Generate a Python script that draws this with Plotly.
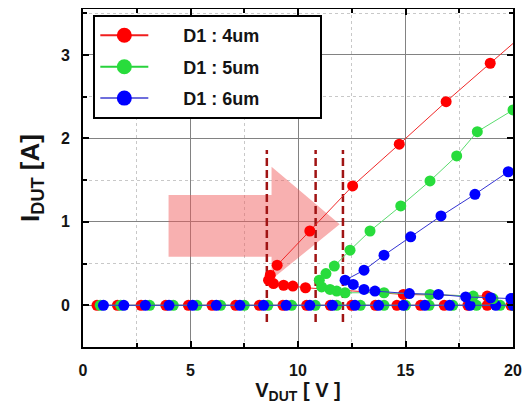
import plotly.graph_objects as go

# ---------------- data ----------------
series_names = ["D1 : 4um", "D1 : 5um", "D1 : 6um"]

# TLP I-V curves (ordered by pulse current)
red_v = [18.8, 14.9, 10.35, 9.76, 9.33, 8.86, 8.63, 8.71, 9.03, 10.55, 12.54, 14.71, 16.89, 18.94, 21.0]
red_i = [0.11, 0.13, 0.21, 0.23, 0.24, 0.26, 0.30, 0.36, 0.48, 0.89, 1.43, 1.93, 2.44, 2.90, 3.36]

green_v = [19.07, 18.15, 16.14, 14.0, 12.19, 11.8, 11.49, 11.1, 10.99, 11.30, 11.69, 12.42, 13.35, 14.78, 16.14, 17.38, 18.34, 20.0]
green_i = [0.08, 0.11, 0.13, 0.15, 0.15, 0.17, 0.19, 0.22, 0.30, 0.38, 0.47, 0.66, 0.89, 1.19, 1.49, 1.79, 2.08, 2.34]

blue_v = [20.0, 19.9, 18.96, 17.8, 16.53, 15.18, 13.58, 13.07, 12.57, 12.19, 13.07, 14.0, 15.24, 16.65, 18.23, 19.78, 21.3]
blue_i = [0.08, 0.08, 0.09, 0.10, 0.13, 0.14, 0.17, 0.19, 0.25, 0.30, 0.42, 0.60, 0.82, 1.07, 1.33, 1.60, 1.82]

# leakage / zero-current row
red_zero_v = [0.65, 1.6, 2.7, 3.85, 4.9, 6.0, 7.1, 8.2, 9.3, 10.4, 11.5, 12.5, 13.6, 14.6, 15.7, 16.8, 17.9, 18.8, 19.9]
green_zero_v = [0.8, 1.75, 3.1, 4.2, 5.3, 6.4, 7.5, 8.6, 9.7, 10.8, 11.8, 12.9, 14.0, 15.0, 16.1, 17.2, 18.3, 19.4, 20.0]
blue_zero_v = [0.95, 1.9, 2.9, 4.0, 5.1, 6.2, 7.3, 8.4, 9.45, 10.55, 11.6, 12.65, 13.75, 14.9, 15.9, 17.05, 18.0, 19.2, 20.0]

# trigger voltage markers (dashed lines)
trigger_v = [8.55, 10.82, 12.09]
trigger_i_range = [-0.2, 1.86]

# big arrow outline (V, I)
arrow_v = [3.98, 8.77, 8.77, 11.94, 8.77, 8.77, 3.98]
arrow_i = [1.32, 1.32, 1.66, 0.97, 0.31, 0.58, 0.58]

x_ticks = [0, 5, 10, 15, 20]
y_ticks = [0, 1, 2, 3]

# ---------------- styles ----------------
marker_colors = ["rgb(255,0,0)", "rgb(40,220,60)", "rgb(0,0,255)"]
line_colors = ["rgb(240,40,40)", "rgb(90,220,110)", "rgb(50,50,210)"]
legend_line_colors = ["rgb(240,30,30)", "rgb(40,210,60)", "rgb(110,110,220)"]

FONT = "Liberation Sans, Arial, sans-serif"
TXT = "rgb(20,20,20)"
MS = 11

fig = go.Figure()

curves = [(red_v, red_i, red_zero_v), (green_v, green_i, green_zero_v), (blue_v, blue_i, blue_zero_v)]

for k, (_, _, zv) in enumerate(curves):
    fig.add_trace(go.Scatter(
        x=zv, y=[0] * len(zv), mode="lines+markers",
        line=dict(color=line_colors[k], width=1),
        marker=dict(color=marker_colors[k], size=MS),
        showlegend=False, hoverinfo="skip"))

for k, (v, i, _) in enumerate(curves):
    fig.add_trace(go.Scatter(
        x=v, y=i, mode="lines+markers",
        line=dict(color=line_colors[k], width=1),
        marker=dict(color=marker_colors[k], size=MS),
        showlegend=False))

for k, name in enumerate(series_names):
    fig.add_trace(go.Scatter(
        x=[None], y=[None], mode="lines+markers",
        name="\u00a0" * 6 + name + "\u00a0" * 11,
        line=dict(color=legend_line_colors[k], width=2),
        marker=dict(color=marker_colors[k], size=15),
        legendgroup=str(k), showlegend=True))

shapes = []
arrow_path = "M " + " L ".join(f"{a},{b}" for a, b in zip(arrow_v, arrow_i)) + " Z"
shapes.append(dict(type="path", path=arrow_path, xref="x", yref="y",
                   fillcolor="rgba(240,90,90,0.48)", line=dict(width=0), layer="between"))
for tv in trigger_v:
    shapes.append(dict(type="line", xref="x", yref="y", x0=tv, x1=tv,
                       y0=trigger_i_range[0], y1=trigger_i_range[1],
                       line=dict(color="rgb(160,20,20)", width=2.5, dash="8px,4px"),
                       layer="between"))

axis_common = dict(
    showline=True, linecolor="black", linewidth=2, mirror="ticks",
    ticks="inside", ticklen=6, tickwidth=1.5, tickcolor="black",
    showgrid=True, gridcolor="rgb(130,130,130)", gridwidth=1,
    zeroline=False, automargin=False,
    tickfont=dict(family=FONT, size=16, color=TXT, weight=700),
)

# the page body adds an 8px offset, so margins are shifted by -8px
fig.update_layout(
    width=532, height=407,
    margin=dict(l=75, r=27, t=1, b=68),
    paper_bgcolor="white", plot_bgcolor="white",
    shapes=shapes,
    xaxis=dict(range=[0, 20], tickvals=x_ticks, ticktext=[f"<b>{t}</b>" for t in x_ticks],
               minor=dict(dtick=2.5, tick0=0, showgrid=True, griddash="dot",
                          gridcolor="rgb(200,200,200)", ticks="inside", ticklen=4,
                          tickcolor="black"),
               title=dict(text="<b>V<sub>DUT</sub> [ V ]</b>", standoff=4,
                          font=dict(family=FONT, size=20, color=TXT, weight=700)),
               ticklabelstandoff=8,
               **axis_common),
    yaxis=dict(range=[-0.5, 3.55], tickvals=y_ticks, ticktext=[f"<b>{t}</b>" for t in y_ticks],
               minor=dict(dtick=0.5, tick0=0, showgrid=True, griddash="dot",
                          gridcolor="rgb(200,200,200)", ticks="inside", ticklen=4,
                          tickcolor="black"),
               title=dict(text="<b>I<sub>DUT</sub> [A]</b>", standoff=14,
                          font=dict(family=FONT, size=26, color=TXT, weight=700)),
               ticklabelstandoff=8,
               **axis_common),
    legend=dict(x=0.024, y=0.982, xanchor="left", yanchor="top",
                bgcolor="white", bordercolor="black", borderwidth=2,
                font=dict(family=FONT, size=18, color=TXT, weight=700),
                itemwidth=48, tracegroupgap=5),
)

fig.write_html("out.html")
